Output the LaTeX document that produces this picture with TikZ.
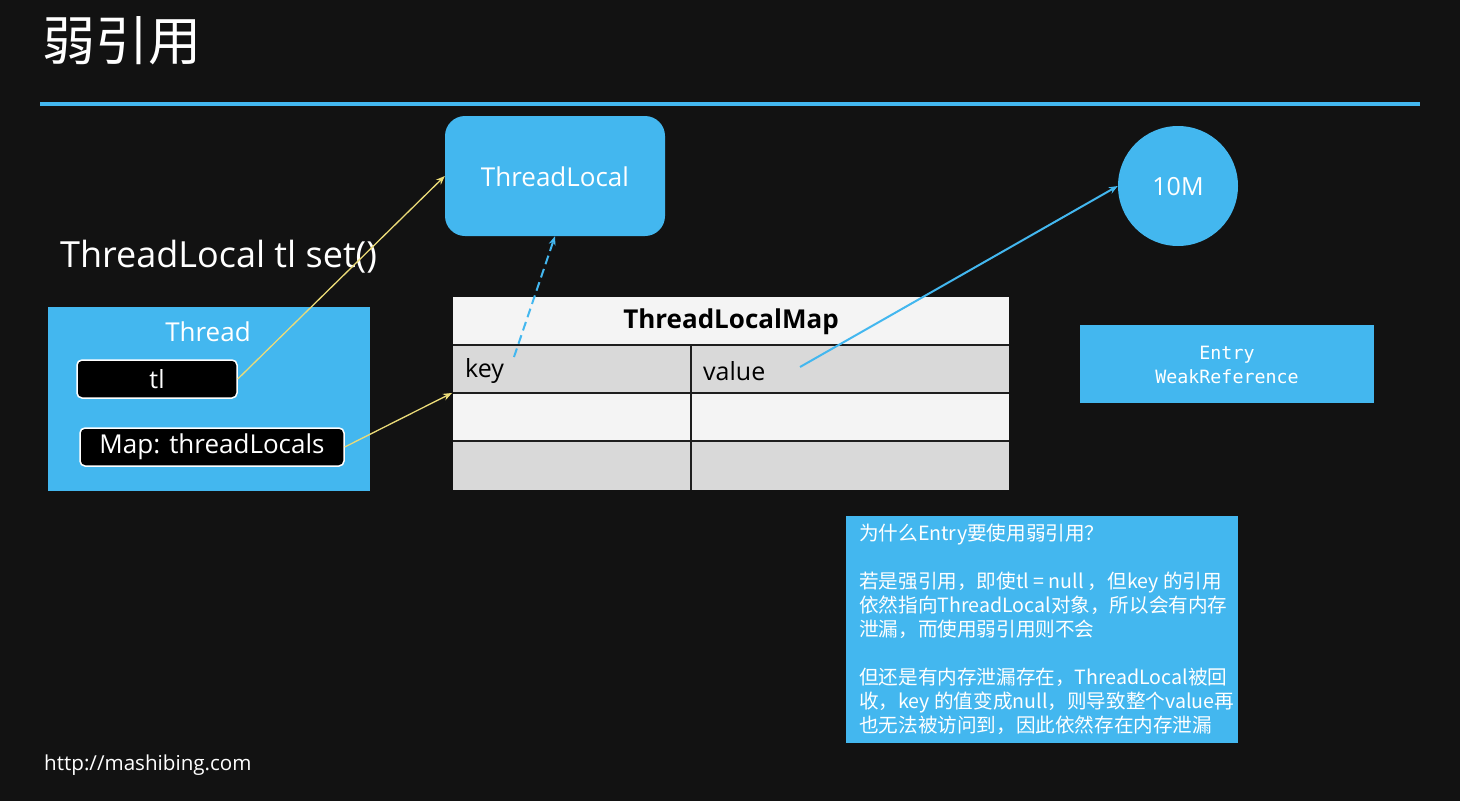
\documentclass[tikz,border=0pt]{standalone}
\usepackage{fontspec}
\setmainfont{Open Sans}
\newfontfamily\cjk{Noto Sans CJK SC}
\newfontfamily\monof{DejaVu Sans Mono}
\usetikzlibrary{arrows.meta}
\definecolor{bg}{HTML}{121212}
\definecolor{blu}{HTML}{43B7EF}
\definecolor{yel}{HTML}{EBDB78}
\definecolor{rowg}{HTML}{D9D9D9}
\definecolor{roww}{HTML}{F4F4F4}
\definecolor{grid}{HTML}{1E1E1E}
\tikzset{
  bluebox/.style={fill=blu, draw=none},
  blackpill/.style={fill=black, draw=white, line width=1.5pt, rounded corners=5pt},
  wtext/.style={text=white, inner sep=0pt},
  yarrow/.style={draw=yel, line width=1.3pt, -{Stealth[length=9pt,width=7pt]}},
  barrow/.style={draw=blu, line width=2pt, -{Stealth[length=9pt,width=7pt]}},
  cell/.style={draw=grid, line width=1.5pt},
}
\begin{document}
\begin{tikzpicture}[x=1pt,y=-1pt]
\fill[bg] (0,0) rectangle (1460,801);
\useasboundingbox (0,0) rectangle (1460,801);

% title
\node[wtext, anchor=west, font=\cjk\fontsize{53}{56}\selectfont] (title) at (42,41) {弱引用};
\draw[blu, line width=4pt] (40,104) -- (1420,104);

% ThreadLocal box
\node[bluebox, rounded corners=20pt, minimum width=220pt, minimum height=120pt] (tlobj) at (555,176) {};
\node[wtext, font=\fontsize{26}{30}\selectfont] (tllabel) at (555,177) {ThreadLocal};

% 10M circle
\node[bluebox, circle, minimum size=120pt] (big) at (1178,186) {};
\node[wtext, font=\fontsize{25}{30}\selectfont] (biglabel) at (1178,187) {10M};

% caption
\node[wtext, anchor=base west, font=\fontsize{36}{40}\selectfont] (cap) at (60,267) {ThreadLocal tl set()};

% Thread box
\node[bluebox, minimum width=322pt, minimum height=184pt] (thread) at (209,399) {};
\node[wtext, font=\fontsize{26}{30}\selectfont] (threadlabel) at (208,332) {Thread};
\node[blackpill, minimum width=160pt, minimum height=38pt] (tl) at (157,379) {};
\node[wtext, font=\fontsize{25}{28}\selectfont] (tltext) at (157,379) {tl};
\node[blackpill, minimum width=264pt, minimum height=38pt] (map) at (212,447) {};
\node[wtext, font=\fontsize{26}{28}\selectfont] (maptext) at (212,447) {Map: threadLocals};

% table
\fill[roww] (453,297) rectangle (1009,345);
\fill[rowg] (453,345) rectangle (1009,393);
\fill[roww] (453,393) rectangle (1009,441);
\fill[rowg] (453,441) rectangle (1009,490);
\draw[cell] (453,345) -- (1009,345);
\draw[cell] (453,393) -- (1009,393);
\draw[cell] (453,441) -- (1009,441);
\draw[cell] (691,345) -- (691,490);
\node[inner sep=0pt] (tablemap) at (731,322) {\fontsize{26}{30}\selectfont\bfseries ThreadLocalMap};
\coordinate (tableleft) at (452,393);
\node[inner sep=0pt, anchor=west, font=\fontsize{25}{28}\selectfont] (key) at (465,371) {key};
\node[inner sep=0pt, anchor=west, font=\fontsize{25}{28}\selectfont] (value) at (703,371) {value};
\coordinate (keyend) at (514,357);
\coordinate (valend) at (800,367);

% Entry box
\node[bluebox, minimum width=294pt, minimum height=78pt] (entry) at (1227,364) {};
\node[wtext, align=center, font=\monof\fontsize{18.3}{24}\selectfont] (entrytext) at (1227,365) {Entry\\WeakReference};

% info box
\node[bluebox, minimum width=392pt, minimum height=227pt] (info) at (1042,629.5) {};
\node[wtext, anchor=north west, align=left, font=\cjk\fontsize{19.6}{24}\selectfont] (infotext) at (859,524) {为什么Entry要使用弱引用？\\[24pt]若是强引用，即使tl = null ，但key 的引用\\依然指向ThreadLocal对象，所以会有内存\\泄漏，而使用弱引用则不会\\[24pt]但还是有内存泄漏存在，ThreadLocal被回\\收，key 的值变成null，则导致整个value再\\也无法被访问到，因此依然存在内存泄漏};

% footer
\node[wtext, anchor=base west, font=\fontsize{20.6}{24}\selectfont] (url) at (44,770) {http://mashibing.com};

% connectors
\draw[yarrow] (tl.east) -- (tlobj.west);
\draw[yarrow] (map.east) -- (tableleft);
\draw[barrow, dashed, dash pattern=on 9pt off 5pt] (keyend) -- (tlobj.south);
\draw[barrow] (valend) -- (big.west);
\end{tikzpicture}
\end{document}
